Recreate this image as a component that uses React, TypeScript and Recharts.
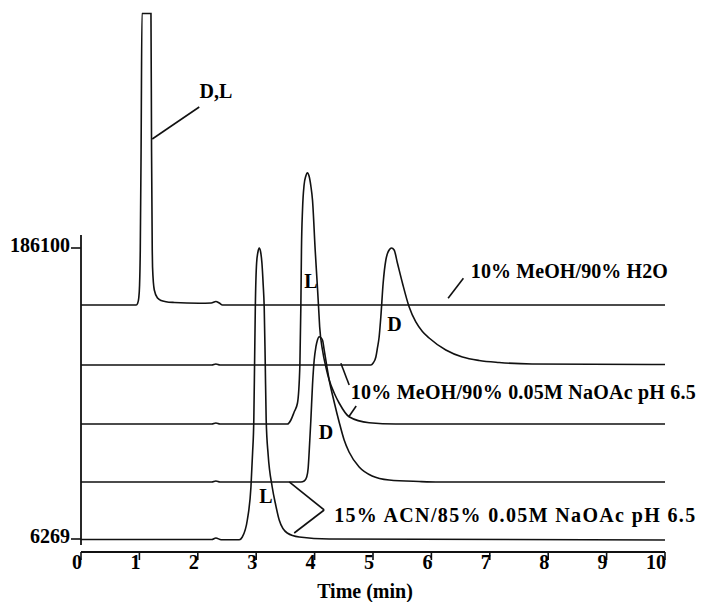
import React from 'react';
import { LineChart, Line, XAxis, YAxis, ReferenceLine, ReferenceDot, Label } from 'recharts';

type P = { t: number; v: number };
const rows = (r: number[][]): P[] => r.map(([t, v]) => ({ t, v }));

const FONT = "'Liberation Serif', 'Times New Roman', serif";
const INK = '#111';

const timeTicks = [0, 1, 2, 3, 4, 5, 6, 7, 8, 9, 10];
const intensityTicks = [6269, 186100];
const yDomain = [-1765, 331943];
const yAxisSpan = [2561, 194141];

// 10% MeOH/90% H2O  (D,L co-elute)
const traceH2O = rows([
  [0, 150881], [0.946, 150881], [0.969, 151808], [0.989, 155207], [1.003, 163241], [1.015, 184871],
  [1.029, 246671], [1.044, 331000], [1.198, 331000], [1.208, 246671], [1.22, 184871], [1.225, 174365],
  [1.255, 160151], [1.311, 155207], [1.374, 153656], [1.455, 152920], [1.597, 152426], [2.024, 151931],
  [2.23, 152117], [2.31, 153044], [2.367, 152117], [2.423, 150881], [10, 150881],
]);

// 10% MeOH/90% 0.05M NaOAc pH 6.5 — D
const traceMeOHD = rows([
  [0, 113801], [2.24, 113801], [2.31, 114420], [2.38, 113801], [4.963, 113801], [5.003, 115037],
  [5.049, 118745], [5.076, 124307], [5.105, 131105], [5.134, 143465], [5.174, 164477], [5.22, 178691],
  [5.251, 183017], [5.277, 184871], [5.316, 186100], [5.362, 184871], [5.418, 176837], [5.504, 164477],
  [5.618, 149830], [5.733, 140375], [5.846, 134504], [5.961, 130487], [6.247, 123071], [6.531, 118745],
  [6.817, 116582], [7.159, 115346], [7.724, 114419], [10, 114110],
]);

// 10% MeOH/90% 0.05M NaOAc pH 6.5 — L
const traceMeOHL = rows([
  [0, 77339], [2.24, 77339], [2.31, 77960], [2.38, 77339], [3.536, 77339], [3.594, 79811], [3.65, 84755],
  [3.707, 90317], [3.748, 113801], [3.765, 150881], [3.775, 184871], [3.793, 209591], [3.82, 225041],
  [3.85, 230603], [3.876, 232642], [3.905, 230603], [3.936, 224423], [3.964, 215771], [4.01, 184871],
  [4.05, 161005], [4.067, 150263], [4.087, 137285], [4.135, 123071], [4.193, 112565], [4.25, 104531],
  [4.335, 96497], [4.42, 90317], [4.59, 81850], [4.934, 78142], [5.39, 77339], [10, 77339],
]);

// 15% ACN/85% 0.05M NaOAc pH 6.5 — D
const traceACND = rows([
  [0, 41495], [2.24, 41495], [2.31, 42110], [2.38, 41495], [3.765, 41495], [3.822, 42113], [3.865, 44585],
  [3.89, 50147], [3.907, 60035], [3.936, 79811], [3.964, 101441], [3.993, 116891], [4.022, 124925],
  [4.049, 129251], [4.078, 131290], [4.135, 129251], [4.164, 123071], [4.25, 104531], [4.335, 90935],
  [4.42, 78575], [4.506, 67451], [4.59, 60035], [4.763, 50765], [4.985, 45203], [5.276, 42731],
  [5.79, 41804], [6.132, 41495], [10, 41495],
]);

// 15% ACN/85% 0.05M NaOAc pH 6.5 — L
const traceACNL = rows([
  [0, 5960], [2.24, 5960], [2.31, 6900], [2.4, 5800], [2.71, 5800], [2.762, 7505], [2.848, 18011],
  [2.91, 38405], [2.938, 59417], [2.959, 79811], [2.973, 116891], [2.985, 149645], [3.007, 176837],
  [3.03, 183635], [3.052, 186100], [3.076, 183635], [3.098, 176837], [3.12, 163241], [3.137, 149645],
  [3.154, 116891], [3.171, 79811], [3.205, 58181], [3.274, 38405], [3.334, 27281], [3.394, 18011],
  [3.531, 9977], [3.737, 7505], [4.25, 6269], [10, 5651],
]);

const traces = [traceH2O, traceMeOHD, traceMeOHL, traceACND, traceACNL];

const annotationLabels = ['D,L', 'L', 'D', 'D', 'L', '10% MeOH/90% H2O', '10% MeOH/90% 0.05M NaOAc pH 6.5', '15% ACN/85% 0.05M NaOAc pH 6.5'];
const annotationT = [2.03, 3.822, 5.242, 4.07, 3.052, 6.675, 4.62, 4.335];
const annotationV = [278807, 161387, 134504, 68069, 28517, 167567, 92789, 16466];
const annotationWidth = [0, 0, 0, 0, 0, 197, 345, 361];

const pointerLines = [
  [[2.025, 273245], [1.22, 253469]],
  [[6.548, 167382], [6.286, 155022]],
  [[4.45, 114852], [4.592, 101441]],
  [[4.583, 81665], [4.712, 88463]],
  [[3.565, 41495], [4.164, 24191]],
  [[4.164, 24191], [3.651, 9977]],
];

const textStyle = { fontFamily: FONT, fontWeight: 'bold' as const, fontSize: 20, fill: '#000' };

const XTick = (props: any) => {
  const { x, y, payload } = props;
  return (
    <text x={x + 1} y={y + 7} textAnchor="end" {...textStyle}>
      {payload.value}
    </text>
  );
};

const YTick = (props: any) => {
  const { x, y, payload } = props;
  return (
    <text x={x + 1} y={y + 4} textAnchor="end" {...textStyle}>
      {payload.value}
    </text>
  );
};

export default function App() {
  return (
    <div style={{ position: 'absolute', left: 0, top: 0, background: '#fff' }}>
      <LineChart width={712} height={602} margin={{ top: 12, right: 47, bottom: 0, left: 0 }}>
        <XAxis
          dataKey="t"
          type="number"
          domain={[0, 10]}
          ticks={timeTicks}
          allowDataOverflow
          height={50}
          tickSize={8}
          tickLine={{ stroke: INK, strokeWidth: 1.6 }}
          axisLine={{ stroke: INK, strokeWidth: 1.8 }}
          tick={<XTick />}
        >
          <Label
            content={(p: any) => {
              const vb = p.viewBox;
              return (
                <text x={vb.x + vb.width / 2 - 8} y={598} textAnchor="middle" {...textStyle}>
                  Time (min)
                </text>
              );
            }}
          />
        </XAxis>
        <YAxis
          type="number"
          domain={yDomain}
          ticks={intensityTicks}
          allowDataOverflow
          width={81}
          tickSize={10}
          axisLine={false}
          tickLine={{ stroke: INK, strokeWidth: 1.6 }}
          tick={<YTick />}
        />
        <ReferenceLine
          segment={[{ x: 0, y: yAxisSpan[0] }, { x: 0, y: yAxisSpan[1] }]}
          stroke={INK}
          strokeWidth={1.8}
        />
        {traces.map((d, i) => (
          <Line
            key={i}
            data={d}
            dataKey="v"
            type="monotone"
            stroke={INK}
            strokeWidth={1.6}
            dot={false}
            activeDot={false}
            isAnimationActive={false}
          />
        ))}
        {pointerLines.map((seg, i) => (
          <ReferenceLine
            key={'p' + i}
            segment={[{ x: seg[0][0], y: seg[0][1] }, { x: seg[1][0], y: seg[1][1] }]}
            stroke={INK}
            strokeWidth={1.6}
          />
        ))}
        {annotationLabels.map((lab, i) => (
          <ReferenceDot
            key={'a' + i}
            x={annotationT[i]}
            y={annotationV[i]}
            r={0}
            shape={(p: any) => (
              <text
                x={p.cx}
                y={p.cy}
                textAnchor="start"
                {...textStyle}
                {...(annotationWidth[i] ? { textLength: annotationWidth[i], lengthAdjust: 'spacing' } : {})}
              >
                {lab}
              </text>
            )}
          />
        ))}
      </LineChart>
    </div>
  );
}
